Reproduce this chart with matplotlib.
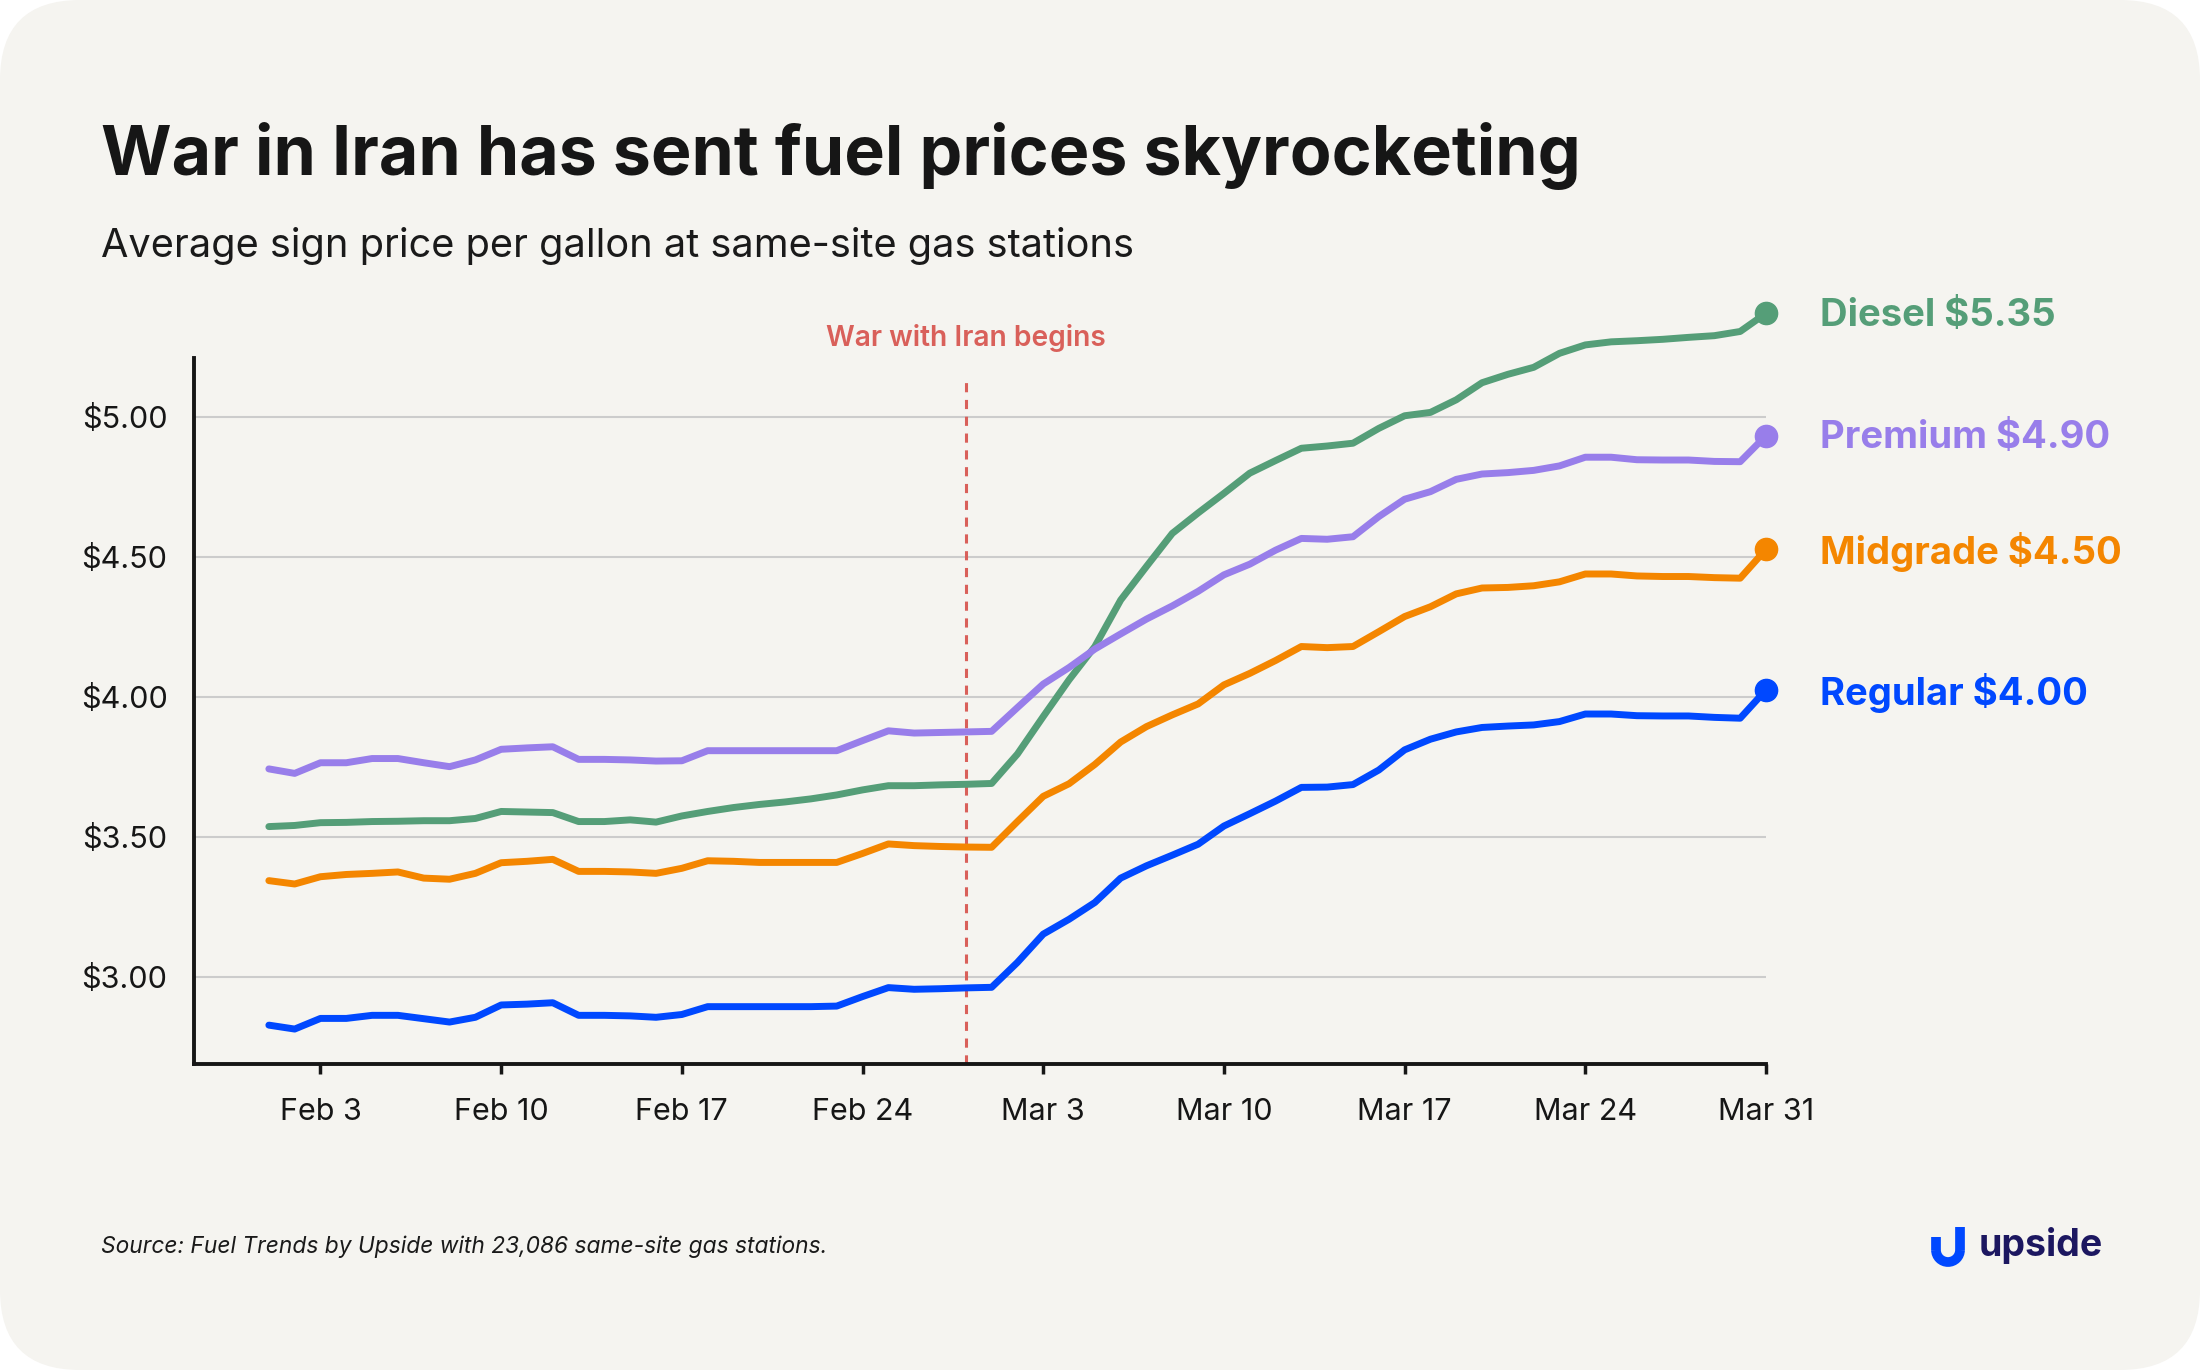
import matplotlib.pyplot as plt
import matplotlib.dates as mdates
import pandas as pd
from matplotlib.patches import FancyBboxPatch, Arc

plt.rcParams['font.family'] = ['Inter', 'DejaVu Sans']

# daily average sign price, Feb 1 - Mar 31
dates = pd.date_range("2026-02-01", "2026-03-31", freq="D")

diesel = [3.536, 3.540, 3.550, 3.551, 3.554, 3.555, 3.557, 3.557, 3.565, 3.590,
          3.588, 3.586, 3.554, 3.554, 3.560, 3.552, 3.574, 3.590, 3.604, 3.615,
          3.624, 3.635, 3.649, 3.667, 3.682, 3.682, 3.685, 3.687, 3.690, 3.795,
          3.929, 4.060, 4.179, 4.345, 4.465, 4.583, 4.656, 4.726, 4.798, 4.843,
          4.887, 4.895, 4.905, 4.958, 5.003, 5.015, 5.060, 5.121, 5.151, 5.176,
          5.226, 5.256, 5.267, 5.271, 5.276, 5.283, 5.289, 5.304, 5.369]
premium = [3.742, 3.726, 3.764, 3.764, 3.779, 3.779, 3.764, 3.750, 3.774, 3.812,
           3.817, 3.821, 3.776, 3.776, 3.774, 3.770, 3.771, 3.807, 3.807, 3.807,
           3.807, 3.807, 3.807, 3.843, 3.878, 3.870, 3.872, 3.874, 3.876, 3.961,
           4.045, 4.104, 4.170, 4.224, 4.277, 4.324, 4.376, 4.435, 4.473, 4.523,
           4.565, 4.562, 4.571, 4.643, 4.705, 4.732, 4.776, 4.795, 4.800, 4.808,
           4.824, 4.855, 4.855, 4.846, 4.845, 4.845, 4.840, 4.839, 4.932]
midgrade = [3.343, 3.331, 3.357, 3.365, 3.369, 3.374, 3.352, 3.348, 3.369, 3.407,
            3.412, 3.419, 3.376, 3.376, 3.374, 3.369, 3.387, 3.414, 3.412, 3.408,
            3.408, 3.408, 3.408, 3.440, 3.474, 3.468, 3.465, 3.463, 3.462, 3.554,
            3.644, 3.689, 3.758, 3.838, 3.893, 3.935, 3.974, 4.042, 4.083, 4.129,
            4.179, 4.175, 4.179, 4.232, 4.286, 4.321, 4.367, 4.388, 4.390, 4.396,
            4.410, 4.438, 4.438, 4.431, 4.429, 4.429, 4.425, 4.423, 4.526]
regular = [2.827, 2.813, 2.851, 2.851, 2.862, 2.862, 2.850, 2.838, 2.855, 2.899,
           2.902, 2.907, 2.862, 2.862, 2.860, 2.855, 2.865, 2.893, 2.893, 2.893,
           2.893, 2.893, 2.895, 2.929, 2.961, 2.955, 2.957, 2.960, 2.962, 3.051,
           3.152, 3.205, 3.265, 3.352, 3.396, 3.434, 3.473, 3.538, 3.582, 3.627,
           3.676, 3.677, 3.686, 3.738, 3.810, 3.848, 3.874, 3.890, 3.895, 3.899,
           3.911, 3.938, 3.938, 3.932, 3.931, 3.931, 3.926, 3.923, 4.024]

series_names = ["Diesel", "Premium", "Midgrade", "Regular"]
end_labels = ["$5.35", "$4.90", "$4.50", "$4.00"]
colors = ["#559E78", "#987EEA", "#F48600", "#0048FF"]

war_date = pd.Timestamp("2026-02-28")
tick_dates = pd.date_range("2026-02-03", "2026-03-31", freq="7D")
y_ticks = [3.00, 3.50, 4.00, 4.50, 5.00]

W, H = 2200, 1370
fig = plt.figure(figsize=(22, 13.7), dpi=100)
fig.patch.set_facecolor("white")

# overlay in pixel units for the card, titles and logo
bg = fig.add_axes([0, 0, 1, 1])
bg.set_xlim(0, W)
bg.set_ylim(H, 0)
bg.axis("off")
bg.add_patch(FancyBboxPatch((0, 0), W, H, boxstyle="round,pad=0,rounding_size=80",
                            fc="#F5F4F0", ec="none"))

bg.text(101, 175, "War in Iran has sent fuel prices skyrocketing", fontsize=49,
        fontweight="bold", color="#161616", va="baseline")
bg.text(101, 257, "Average sign price per gallon at same-site gas stations", fontsize=28.6,
        color="#1A1A1A", va="baseline")
bg.text(101, 1253, "Source: Fuel Trends by Upside with 23,086 same-site gas stations.",
        fontsize=16.4, style="italic", color="#1A1A1A", va="baseline")

# upside logo
bg.add_patch(Arc((1948, 1250), 24, 24, theta1=0, theta2=180, lw=7, color="#0048FF"))
bg.plot([1936, 1936], [1237, 1250], color="#0048FF", lw=7, solid_capstyle="butt")
bg.plot([1960, 1960], [1227, 1250], color="#0048FF", lw=7, solid_capstyle="butt")
bg.text(1979, 1256, "upside", fontsize=27, fontweight="bold", color="#1C1760", va="baseline")

ax = fig.add_axes([194 / W, 1 - 1063.5 / H, (1766 - 194) / W, (1063.5 - 357.8) / H])
ax.set_facecolor("none")

for name, vals, lab, c in zip(series_names, [diesel, premium, midgrade, regular], end_labels, colors):
    ax.plot(dates, vals, color=c, lw=5, solid_capstyle="round", solid_joinstyle="round",
            zorder=3, clip_on=False)
    ax.plot(dates[-1], vals[-1], "o", ms=16, color=c, clip_on=False, zorder=4)
    ax.annotate(f"{name} {lab}", xy=(dates[-1], vals[-1]), xytext=(39, -2),
                textcoords="offset points", va="center", ha="left", fontsize=27.5,
                fontweight="bold", color=c, annotation_clip=False)

ax.vlines(war_date, 2.69, 5.15, colors="#D9605A", linestyles=(0, (3, 2.5)), lw=2.2, zorder=2)
ax.text(war_date, 5.28, "War with Iran begins", ha="center", va="center", fontsize=20.3,
        fontweight="semibold", color="#D9605A")

ax.set_xlim(dates[0] - pd.Timedelta(days=2.9), dates[-1])
ax.set_ylim(2.69, 5.21)
ax.set_xticks(tick_dates)
ax.xaxis.set_major_formatter(mdates.DateFormatter("%b %-d"))
ax.set_yticks(y_ticks)
ax.set_yticklabels([f"${v:.2f}" for v in y_ticks])
ax.yaxis.grid(True, color="#CCCCCC", lw=1.5)
ax.set_axisbelow(True)

for s in ["top", "right"]:
    ax.spines[s].set_visible(False)
for s in ["left", "bottom"]:
    ax.spines[s].set_linewidth(2.8)
    ax.spines[s].set_color("#161616")
ax.tick_params(axis="x", length=7, width=2.5, pad=18, labelsize=22, colors="#161616")
ax.tick_params(axis="y", length=0, pad=19, labelsize=22, colors="#161616")

fig.savefig("out.png", dpi=100, facecolor=fig.get_facecolor())
